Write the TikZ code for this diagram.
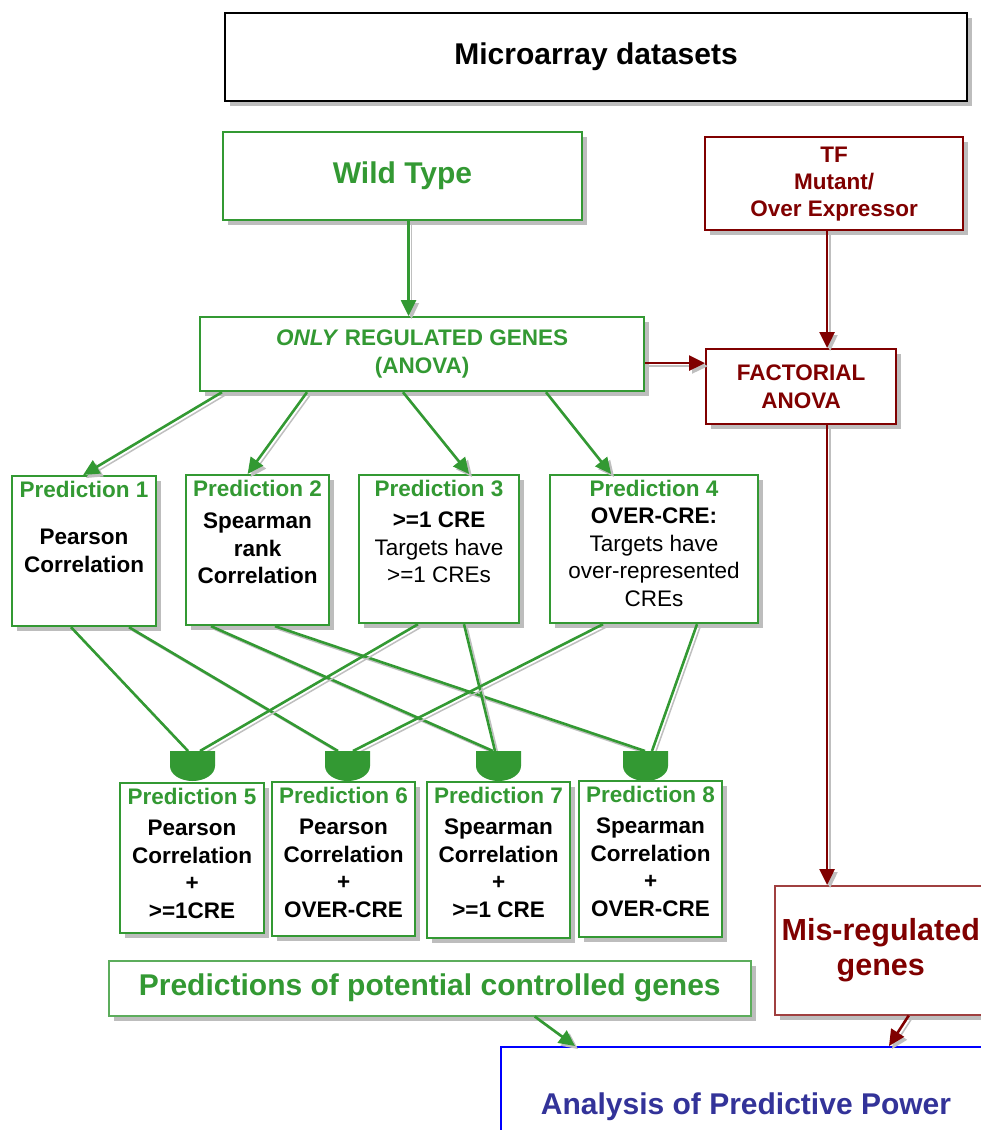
\documentclass[tikz,border=0pt]{standalone}
\usepackage{fontspec}
\setmainfont{Liberation Sans}
\usepackage{tikz}
\usetikzlibrary{arrows,arrows.meta,shadows,calc}
\definecolor{wtgreen}{RGB}{51,153,51}
\definecolor{tfred}{RGB}{128,0,0}
\definecolor{anablue}{RGB}{51,51,153}
\newcommand{\bigsz}{\fontsize{30}{35}\selectfont}
\newcommand{\midsz}{\fontsize{22.5}{27.5}\selectfont}
\newcommand{\boxtext}[3]{\parbox[c][#2][t]{#1}{\centering #3}}
\newcommand{\phead}[1]{{\color{wtgreen}Prediction #1}}

\begin{document}
\begin{tikzpicture}[x=1pt,y=-1pt,>={Triangle[length=16pt,width=15pt]},
	shadowed/.style={drop shadow={shadow xshift=5pt,shadow yshift=-5pt,fill=gray!65,opacity=.8}},
	box/.style={draw,fill=white,shadowed,anchor=north west,inner sep=0pt,align=center,font=\bfseries},
	pred/.style={draw=wtgreen,line width=2.2pt,fill=white,shadowed,anchor=north west,inner sep=5pt,font=\midsz\bfseries},
	lshadow/.style={preaction={draw=gray!50,line width=1.5pt,transform canvas={shift={(3pt,-3pt)}}}},
	garrow/.style={->,draw=wtgreen,line width=2.6pt,lshadow},
	rarrow/.style={->,draw=tfred,line width=2.6pt,lshadow},
	gline/.style={draw=wtgreen,line width=2.6pt,lshadow}]
	\useasboundingbox (0,0) rectangle (981,1130);

	\node[box,draw=black,line width=2.2pt,minimum width=742pt,minimum height=88pt,font=\bigsz\bfseries] (micro) at (224,12) {Microarray datasets};
	\node[box,draw=wtgreen,line width=2pt,minimum width=359pt,minimum height=88pt,font=\bigsz\bfseries,text=wtgreen] (wt) at (222,131) {Wild Type};
	\node[box,draw=tfred,line width=2.2pt,minimum width=258pt,minimum height=93pt,font=\fontsize{22.5}{27}\selectfont\bfseries,text=tfred] (tf) at (704,136) {TF\\Mutant/\\Over Expressor};
	\node[box,draw=wtgreen,line width=2.2pt,minimum width=444pt,minimum height=74pt,font=\fontsize{22.5}{28}\selectfont\bfseries,text=wtgreen] (only) at (199,316) {\textit{ONLY} REGULATED GENES\\(ANOVA)};
	\node[box,draw=tfred,line width=2.2pt,minimum width=190pt,minimum height=75pt,font=\fontsize{22.5}{28}\selectfont\bfseries,text=tfred] (fact) at (705,348) {FACTORIAL\\ANOVA};

	\node[pred] (p1) at (11,475) {\boxtext{134pt}{140pt}{\phead{1}\\[20pt]Pearson\\Correlation}};
	\node[pred] (p2) at (185,474) {\boxtext{133pt}{140pt}{\phead{2}\\[5pt]Spearman\\rank\\Correlation}};
	\node[pred] (p3) at (358,474) {\boxtext{150pt}{138pt}{\phead{3}\\[4pt]>=1 CRE\\ \mdseries Targets have\\>=1 CREs}};
	\node[pred] (p4) at (549,474) {\boxtext{198pt}{138pt}{\phead{4}\\OVER-CRE:\\ \mdseries Targets have\\over-represented\\CREs}};

	\node[pred] (p5) at (119,782) {\boxtext{134pt}{140pt}{\phead{5}\\[4pt]Pearson\\Correlation\\+\\>=1CRE}};
	\node[pred] (p6) at (271,781) {\boxtext{133pt}{144pt}{\phead{6}\\[4pt]Pearson\\Correlation\\+\\OVER-CRE}};
	\node[pred] (p7) at (426,781) {\boxtext{133pt}{146pt}{\phead{7}\\[4pt]Spearman\\Correlation\\+\\>=1 CRE}};
	\node[pred] (p8) at (578,780) {\boxtext{133pt}{146pt}{\phead{8}\\[4pt]Spearman\\Correlation\\+\\OVER-CRE}};

	\node[box,draw=tfred!75,line width=1.5pt,minimum width=212pt,minimum height=129pt,font=\fontsize{30.5}{35}\selectfont\bfseries,text=tfred] (mis) at (774,885) {Mis-regulated\\genes};
	\node[box,draw=wtgreen!80,line width=1.5pt,minimum width=642pt,minimum height=55pt,font=\bigsz\bfseries,text=wtgreen] (pred) at (108,960) {Predictions of potential controlled genes};
	\node[box,draw=blue,line width=2pt,minimum width=490pt,minimum height=120pt,font=\bigsz\bfseries,text=anablue] (ana) at (500,1046) {Analysis of Predictive Power};

	\coordinate (g5) at (192,751);
	\coordinate (g6) at (347,751);
	\coordinate (g7) at (498,751);
	\coordinate (g8) at (645,751);

	\draw[garrow] ([xshift=6pt]wt.south) -- ([xshift=6pt]wt.south |- only.north);
	\draw[rarrow] ([xshift=-7pt]tf.south) -- ([xshift=-7pt]tf.south |- fact.north);
	\draw[rarrow] ([yshift=-9pt]only.east) -- ([yshift=-9pt]only.east -| fact.west);
	\draw[rarrow] ([xshift=26pt]fact.south) -- ([xshift=26pt]fact.south |- mis.north);

	\draw[garrow] ([xshift=23pt]only.south west) -- ([xshift=-1pt]p1.north);
	\draw[garrow] ([xshift=108pt]only.south west) -- ([xshift=-10pt]p2.north);
	\draw[garrow] ([xshift=204pt]only.south west) -- ([xshift=30pt]p3.north);
	\draw[garrow] ([xshift=347pt]only.south west) -- ([xshift=-43pt]p4.north);

	\draw[gline] ([xshift=60pt]p1.south west) -- ([xshift=-4pt]g5);
	\draw[gline] ([xshift=118pt]p1.south west) -- ([xshift=-9pt]g6);
	\draw[gline] ([xshift=26pt]p2.south west) -- ([xshift=-5pt]g7);
	\draw[gline] ([xshift=90pt]p2.south west) -- (g8);
	\draw[gline] ([xshift=60pt]p3.south west) -- ([xshift=8pt]g5);
	\draw[gline] ([xshift=106pt]p3.south west) -- ([xshift=-3pt]g7);
	\draw[gline] ([xshift=54pt]p4.south west) -- ([xshift=6pt]g6);
	\draw[gline] ([xshift=148pt]p4.south west) -- ([xshift=7pt]g8);

	\foreach \g in {g5,g6,g7,g8}
		\fill[wtgreen] ([xshift=-22pt]\g) -- ++(45,0) -- ++(0,15) arc[start angle=0,end angle=-180,x radius=22.5pt,y radius=15pt] -- cycle;

	\draw[garrow] ([xshift=105pt]pred.south) -- ([xshift=75pt]ana.north west);
	\draw[rarrow] ([xshift=28pt]mis.south) -- ([xshift=389pt]ana.north west);
\end{tikzpicture}
\end{document}
